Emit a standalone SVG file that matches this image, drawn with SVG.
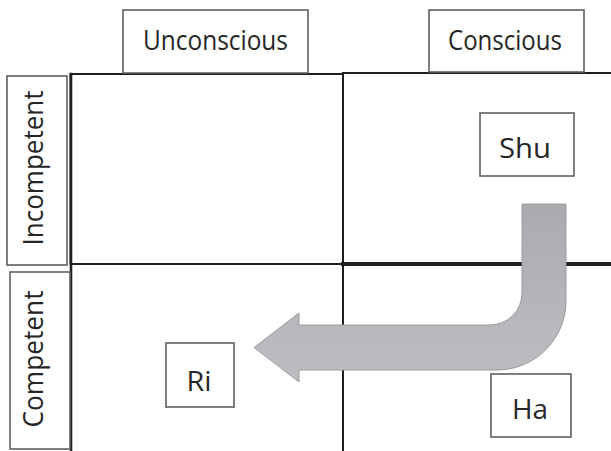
<svg xmlns="http://www.w3.org/2000/svg" width="611" height="451" viewBox="0 0 611 451">
  <style>
    .grid { stroke: #1e1e1e; fill: none; stroke-linecap: square; }
    .box { fill: #ffffff; stroke: #606060; stroke-width: 1.6; }
    .label { font-family: "Open Sans", "Liberation Sans", sans-serif; font-size: 27px; fill: #262626; text-anchor: middle; }
  </style>
  <defs>
    <linearGradient id="arrowFill" x1="0" y1="0" x2="0" y2="1">
      <stop offset="0" stop-color="#aaabaf"/>
      <stop offset="1" stop-color="#bdbec1"/>
    </linearGradient>
  </defs>

  <!-- quadrant grid -->
  <g id="grid">
    <rect class="grid" x="70.5" y="74" width="272.5" height="190" stroke-width="2"/>
    <line class="grid" x1="71" y1="74" x2="71" y2="451" stroke-width="2.6"/>
    <line class="grid" x1="343" y1="73" x2="611" y2="73" stroke-width="2.2"/>
    <line class="grid" x1="343" y1="73" x2="343" y2="451" stroke-width="2"/>
    <line class="grid" x1="343" y1="264" x2="611" y2="264" stroke-width="4"/>
  </g>

  <!-- axis headers -->
  <g id="unconscious">
    <rect class="box" x="123" y="10" width="185" height="63"/>
    <text class="label" x="215.5" y="50" textLength="145" lengthAdjust="spacingAndGlyphs">Unconscious</text>
  </g>
  <g id="conscious">
    <rect class="box" x="429" y="10" width="155" height="62"/>
    <text class="label" x="505" y="50" textLength="114" lengthAdjust="spacingAndGlyphs">Conscious</text>
  </g>
  <g id="incompetent">
    <rect class="box" x="7" y="76" width="60" height="189"/>
    <text class="label" transform="translate(43 168) rotate(-90)" textLength="155" lengthAdjust="spacingAndGlyphs">Incompetent</text>
  </g>
  <g id="competent">
    <rect class="box" x="10" y="272" width="60" height="177"/>
    <text class="label" transform="translate(43 359) rotate(-90)" textLength="137" lengthAdjust="spacingAndGlyphs">Competent</text>
  </g>

  <!-- stages -->
  <g id="shu">
    <rect class="box" x="480" y="113" width="94" height="63"/>
    <text class="label" x="525" y="158" textLength="52" lengthAdjust="spacingAndGlyphs">Shu</text>
  </g>
  <g id="ha">
    <rect class="box" x="491" y="374" width="80" height="63"/>
    <text class="label" x="530" y="419" textLength="36" lengthAdjust="spacingAndGlyphs">Ha</text>
  </g>
  <g id="ri">
    <rect class="box" x="166" y="343" width="68" height="64"/>
    <text class="label" x="199" y="391" textLength="25" lengthAdjust="spacingAndGlyphs">Ri</text>
  </g>

  <!-- bent arrow from Shu down and across to Ri -->
  <g id="connectors">
    <path d="M522 204 L522 293 A32 32 0 0 1 490 325 L299 325 L299 313 L254 347.5 L299 382 L299 370 L497 370 A69 69 0 0 0 566 301 L566 204 Z"
          fill="url(#arrowFill)" stroke="#9a9b9e" stroke-width="1"/>
  </g>
</svg>
